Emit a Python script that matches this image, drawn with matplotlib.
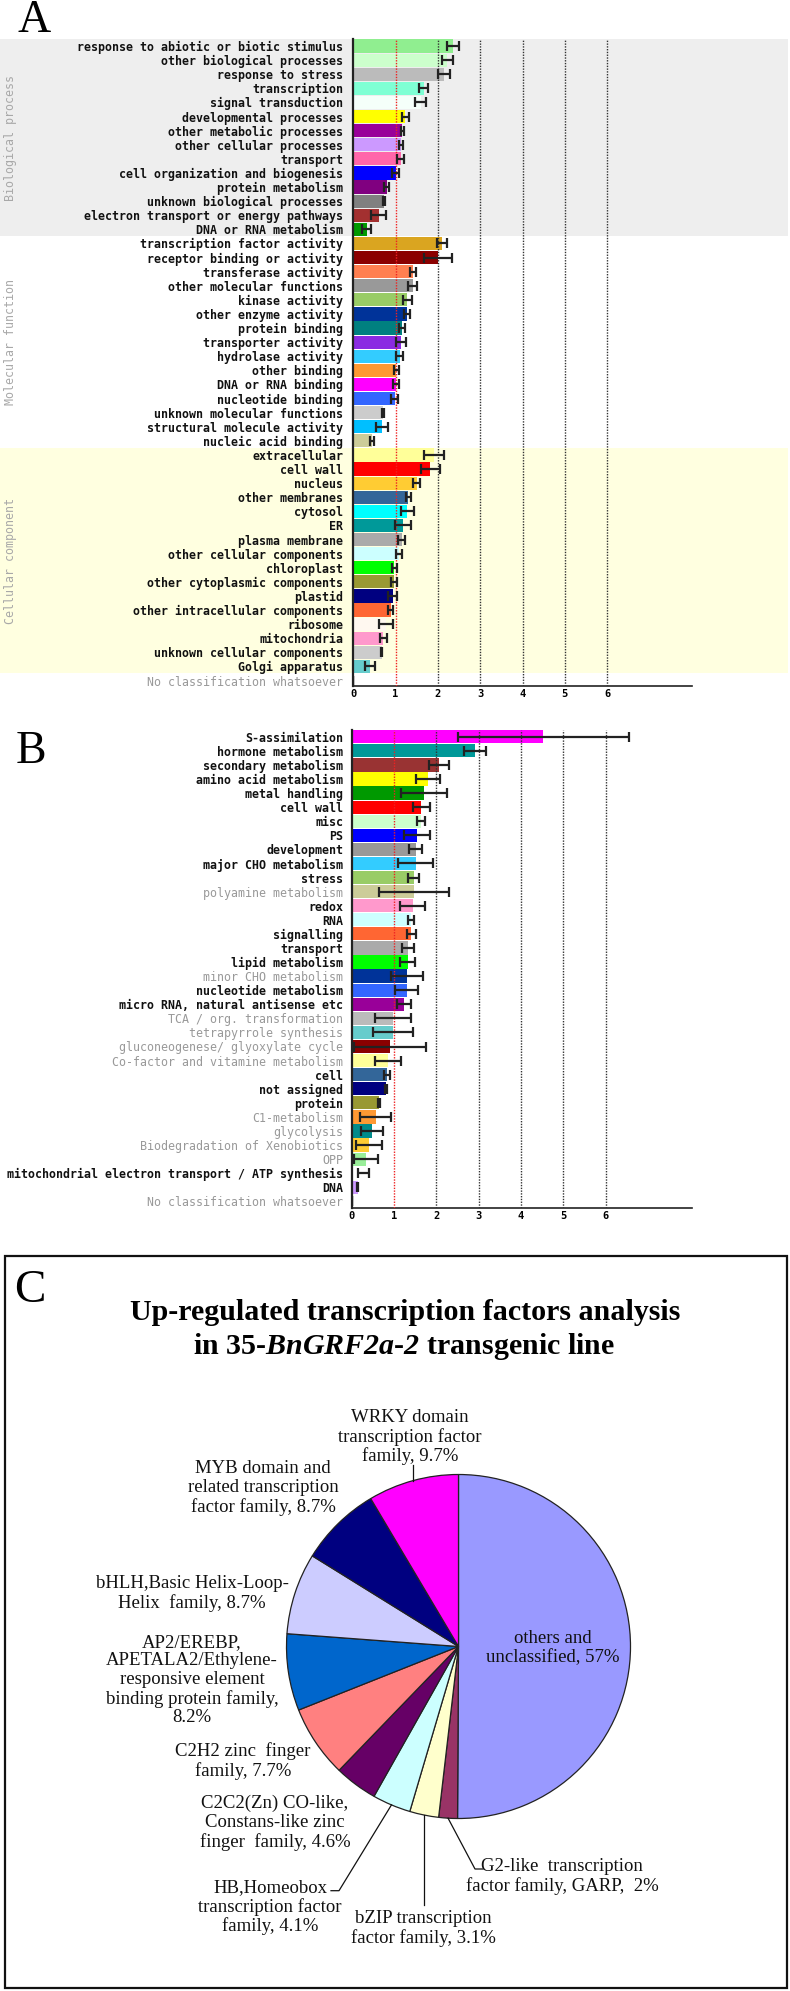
import matplotlib
matplotlib.use('Agg')
import matplotlib.pyplot as plt
from matplotlib.transforms import blended_transform_factory
from matplotlib.patches import Rectangle
import numpy as np

plt.rcParams['mathtext.fontset'] = 'custom'
plt.rcParams['mathtext.it'] = 'Liberation Serif:italic:bold'
plt.rcParams['mathtext.rm'] = 'Liberation Serif:italic:bold'
plt.rcParams['mathtext.bf'] = 'Liberation Serif:italic:bold'

# ---------------- Panel A data ----------------
a_bio_labels = ["response to abiotic or biotic stimulus", "other biological processes", "response to stress",
                "transcription", "signal transduction", "developmental processes", "other metabolic processes",
                "other cellular processes", "transport", "cell organization and biogenesis", "protein metabolism",
                "unknown biological processes", "electron transport or energy pathways", "DNA or RNA metabolism"]
a_bio_values = [2.36, 2.22, 2.15, 1.66, 1.59, 1.23, 1.16, 1.13, 1.12, 1.00, 0.79, 0.72, 0.60, 0.32]
a_bio_errors = [0.15, 0.13, 0.14, 0.10, 0.13, 0.09, 0.04, 0.04, 0.09, 0.08, 0.06, 0.02, 0.17, 0.11]
a_bio_colors = ['#90EE90', '#CCFFCC', '#BBBBBB', '#7FFFD4', '#F5FFFA', '#FFFF00', '#990099', '#CC99FF',
                '#FF66AA', '#0000FF', '#800080', '#808080', '#A33030', '#009900']

a_mol_labels = ["transcription factor activity", "receptor binding or activity", "transferase activity",
                "other molecular functions", "kinase activity", "other enzyme activity", "protein binding",
                "transporter activity", "hydrolase activity", "other binding", "DNA or RNA binding",
                "nucleotide binding", "unknown molecular functions", "structural molecule activity",
                "nucleic acid binding"]
a_mol_values = [2.10, 2.01, 1.41, 1.40, 1.28, 1.28, 1.15, 1.13, 1.10, 1.02, 1.00, 0.98, 0.71, 0.67, 0.44]
a_mol_errors = [0.12, 0.33, 0.07, 0.10, 0.11, 0.07, 0.07, 0.11, 0.08, 0.05, 0.07, 0.08, 0.02, 0.14, 0.05]
a_mol_colors = ['#DAA520', '#8B0000', '#FF7F50', '#999999', '#99CC66', '#003399', '#008080', '#8A2BE2',
                '#33CCFF', '#FF9933', '#FF00FF', '#3366FF', '#CCCCCC', '#00BFFF', '#CCCC99']

a_cel_labels = ["extracellular", "cell wall", "nucleus", "other membranes", "cytosol", "ER", "plasma membrane",
                "other cellular components", "chloroplast", "other cytoplasmic components", "plastid",
                "other intracellular components", "ribosome", "mitochondria", "unknown cellular components",
                "Golgi apparatus"]
a_cel_values = [1.90, 1.82, 1.50, 1.30, 1.28, 1.18, 1.14, 1.08, 0.97, 0.96, 0.93, 0.88, 0.78, 0.71, 0.67, 0.39]
a_cel_errors = [0.24, 0.22, 0.08, 0.06, 0.16, 0.19, 0.08, 0.08, 0.06, 0.08, 0.11, 0.06, 0.17, 0.09, 0.02, 0.12]
a_cel_colors = ['#FFFF99', '#FF0000', '#FFCC33', '#336699', '#00FFFF', '#009999', '#AAAAAA', '#CCFFFF',
                '#00FF00', '#999933', '#000080', '#FF6633', '#FFF8F0', '#FF99CC', '#CCCCCC', '#66CCCC']

a_groups = ["Biological process", "Molecular function", "Cellular component"]
a_group_bg = ['#EEEEEE', '#FFFFFF', '#FFFFE0']

unclassified_label = "No classification whatsoever"
x_ticks = [0, 1, 2, 3, 4, 5, 6]

# ---------------- Panel B data ----------------
b_labels = ["S-assimilation", "hormone metabolism", "secondary metabolism", "amino acid metabolism",
            "metal handling", "cell wall", "misc", "PS", "development", "major CHO metabolism", "stress",
            "polyamine metabolism", "redox", "RNA", "signalling", "transport", "lipid metabolism",
            "minor CHO metabolism", "nucleotide metabolism", "micro RNA, natural antisense etc",
            "TCA / org. transformation", "tetrapyrrole synthesis", "gluconeogenese/ glyoxylate cycle",
            "Co-factor and vitamine metabolism", "cell", "not assigned", "protein", "C1-metabolism",
            "glycolysis", "Biodegradation of Xenobiotics", "OPP",
            "mitochondrial electron transport / ATP synthesis", "DNA", "No classification whatsoever"]
b_values = [4.53, 2.92, 2.07, 1.81, 1.71, 1.64, 1.64, 1.54, 1.51, 1.51, 1.47, 1.47, 1.44, 1.39, 1.41, 1.34,
            1.32, 1.31, 1.30, 1.24, 0.98, 0.98, 0.90, 0.86, 0.83, 0.81, 0.65, 0.57, 0.47, 0.41, 0.33, 0.28,
            0.14, 0.0]
b_errors = [2.02, 0.26, 0.24, 0.28, 0.54, 0.20, 0.10, 0.30, 0.15, 0.42, 0.13, 0.82, 0.29, 0.07, 0.10, 0.14,
            0.18, 0.37, 0.27, 0.17, 0.42, 0.47, 0.85, 0.31, 0.07, 0.03, 0.03, 0.37, 0.26, 0.30, 0.28, 0.13,
            0.02, 0.0]
b_colors = ['#FF00FF', '#009999', '#993333', '#FFFF00', '#009900', '#FF0000', '#CCFFCC', '#0000FF', '#999999',
            '#33CCFF', '#99CC66', '#CCCC99', '#FF99CC', '#CCFFFF', '#FF6633', '#AAAAAA', '#00FF00', '#003399',
            '#3366FF', '#990099', '#BBBBBB', '#66CCCC', '#8B0000', '#FFFF99', '#336699', '#000080', '#999933',
            '#FF9933', '#008B8B', '#FFCC33', '#99EE99', '#FFFFFF', '#CC99FF', '#FFFFFF']
b_label_gray = [False, False, False, False, False, False, False, False, False, False, False,
                True, False, False, False, False, False, True, False, False, True, True, True, True,
                False, False, False, True, True, True, True, False, False, True]

# ---------------- Panel C data ----------------
c_title_1 = "Up-regulated transcription factors analysis"
c_title_2 = r"in 35-$BnGRF2a$-$2$ transgenic line"
c_labels = ["others and\nunclassified, 57%",
            "G2-like  transcription\nfactor family, GARP,  2%",
            "bZIP transcription\nfactor family, 3.1%",
            "HB,Homeobox\ntranscription factor\nfamily, 4.1%",
            "C2C2(Zn) CO-like,\nConstans-like zinc\nfinger  family, 4.6%",
            "C2H2 zinc  finger\nfamily, 7.7%",
            "AP2/EREBP,\nAPETALA2/Ethylene-\nresponsive element\nbinding protein family,\n8.2%",
            "bHLH,Basic Helix-Loop-\nHelix  family, 8.7%",
            "MYB domain and\nrelated transcription\nfactor family, 8.7%",
            "WRKY domain\ntranscription factor\nfamily, 9.7%"]
c_values = [57, 2, 3.1, 4.1, 4.6, 7.7, 8.2, 8.7, 8.7, 9.7]
c_colors = ['#9999FF', '#993366', '#FFFFCC', '#CCFFFF', '#660066', '#FF8080', '#0066CC', '#CCCCFF',
            '#000080', '#FF00FF']

# ---------------- figure ----------------
W, H = 790, 1991
fig = plt.figure(figsize=(W / 100, H / 100), dpi=100)


def fx(x):
    return x / W


def fy(y):
    return 1 - y / H


def add_ax(x0, y0, x1, y1):
    return fig.add_axes([x0 / W, 1 - y1 / H, (x1 - x0) / W, (y1 - y0) / H])


MONO = 'DejaVu Sans Mono'
SERIF = 'Liberation Serif'


def bar_panel(ax, labels, values, errors, colors, gray_flags, bold_flags, xmax, ymax, ypad_pt):
    n = len(labels)
    y = np.arange(n)
    ax.set_facecolor('none')
    ax.barh(y, values, height=0.94, color=colors, edgecolor='none', zorder=2)
    for xv in range(1, 7):
        ax.axvline(xv, color='#EE2222' if xv == 1 else '#333333', ls=(0, (1, 1)), lw=1.0, zorder=3)
    ax.errorbar(values, y, xerr=errors, fmt='none', ecolor='#222222', elinewidth=1.6,
                capsize=3.6, capthick=1.6, zorder=4)
    ax.set_xlim(0, xmax)
    ax.set_ylim(ymax, -0.5)
    ax.set_yticks(y)
    ax.set_yticklabels(labels, fontfamily=MONO, fontsize=8.4)
    for lab, g, b in zip(ax.get_yticklabels(), gray_flags, bold_flags):
        lab.set_color('#999999' if g else '#111111')
        lab.set_fontweight('bold' if b else 'normal')
    ax.tick_params(axis='y', length=0, pad=ypad_pt)
    ax.set_xticks(x_ticks)
    ax.set_xticklabels([str(t) for t in x_ticks], fontfamily=MONO, fontsize=7.5, fontweight='bold')
    ax.tick_params(axis='x', length=0, pad=2.5)
    for s in ['top', 'right']:
        ax.spines[s].set_visible(False)
    ax.spines['left'].set_linewidth(1.6)
    ax.spines['left'].set_color('#222222')
    ax.spines['bottom'].set_linewidth(1.2)
    ax.spines['bottom'].set_color('#222222')


# ----- Panel A -----
a_labels = a_bio_labels + a_mol_labels + a_cel_labels + [unclassified_label]
a_values = a_bio_values + a_mol_values + a_cel_values + [0.0]
a_errors = a_bio_errors + a_mol_errors + a_cel_errors + [0.0]
a_colors = a_bio_colors + a_mol_colors + a_cel_colors + ['#FFFFFF']
a_gray = [False] * (len(a_labels) - 1) + [True]
a_bold = [True] * (len(a_labels) - 1) + [False]

axA = add_ax(353.3, 39, 691.7, 686)
bar_panel(axA, a_labels, a_values, a_errors, a_colors, a_gray, a_bold,
          (691.7 - 353.3) / 42.3, -0.5 + (686 - 39) / 14.1, 7.4)

blendA = blended_transform_factory(fig.transFigure, axA.transData)
sizes = [len(a_bio_labels), len(a_mol_labels), len(a_cel_labels)]
start = 0
for name, bg, sz in zip(a_groups, a_group_bg, sizes):
    axA.add_patch(Rectangle((0, start - 0.5), 788 / W, sz, transform=blendA, facecolor=bg,
                            edgecolor='none', clip_on=False, zorder=0))
    axA.text(10.5 / W, start + (sz - 1) / 2, name, transform=blendA, rotation=90, ha='center', va='center',
             fontfamily=MONO, fontsize=8.4, color='#A8A8A8')
    start += sz

# ----- Panel B -----
axB = add_ax(351.7, 729.7, 692, 1208)
bar_panel(axB, b_labels, b_values, b_errors, b_colors, b_label_gray, [not g for g in b_label_gray],
          (692 - 351.7) / 42.33, -0.5 + (1208 - 729.7) / 14.08, 6.0)

# panel letters
fig.text(fx(17), fy(32), 'A', fontfamily=SERIF, fontsize=33, va='baseline', ha='left')
fig.text(fx(16), fy(763), 'B', fontfamily=SERIF, fontsize=33, va='baseline', ha='left')

# ----- Panel C -----
fig.add_artist(Rectangle((fx(5), fy(1988)), (787 - 5) / W, (1988 - 1256) / H, transform=fig.transFigure,
                         fill=False, lw=1.6, edgecolor='#111111'))
fig.text(fx(14), fy(1302), 'C', fontfamily=SERIF, fontsize=34, va='baseline', ha='left')
title_kw = dict(fontfamily=SERIF, fontweight='bold', fontsize=21.6)
fig.text(fx(405), fy(1313), c_title_1, ha='center', va='center', **title_kw)
fig.text(fx(404), fy(1347), c_title_2, ha='center', va='center', **title_kw)

CX, CY, R = 458.5, 1646.5, 172.0
axC = add_ax(CX - R, CY - R, CX + R, CY + R)
wedges, _ = axC.pie(c_values, colors=c_colors, startangle=90, counterclock=False,
                    wedgeprops=dict(edgecolor='#222222', linewidth=0.9))
axC.set_xlim(-1, 1)
axC.set_ylim(-1, 1)
axC.axis('off')


def px2pie(px, py):
    return (px - CX) / R, (CY - py) / R


def edge(i):
    w = wedges[i]
    m = np.deg2rad((w.theta1 + w.theta2) / 2)
    return np.cos(m), np.sin(m)


line_kw = dict(color='#111111', lw=0.9, clip_on=False)
# WRKY leader
ex, ey = edge(9)
axC.plot([ex, ex], [ey, px2pie(0, 1465)[1]], **line_kw)
# HB leader
ex, ey = edge(3)
p1 = px2pie(339, 1890.7)
p2 = px2pie(331, 1890.7)
axC.plot([ex, p1[0], p2[0]], [ey, p1[1], p2[1]], **line_kw)
# bZIP leader
ex, ey = edge(2)
axC.plot([ex, ex], [ey, px2pie(0, 1905)[1]], **line_kw)
# G2-like leader
ex, ey = edge(1)
p1 = px2pie(475, 1869)
p2 = px2pie(483, 1869)
axC.plot([ex, p1[0], p2[0]], [ey, p1[1], p2[1]], **line_kw)

label_pos = [(553, 1648), (562, 1876.5), (423, 1928.5), (270, 1907), (275, 1822.7), (243, 1761),
             (192, 1680), (192, 1593.5), (263, 1488), (410, 1437)]
for txt, (px, py) in zip(c_labels, label_pos):
    fig.text(fx(px), fy(py), txt, fontfamily=SERIF, fontsize=13.5, ha='center', va='center',
             linespacing=1.13, color='#111111')

fig.savefig('out.png', dpi=100)
